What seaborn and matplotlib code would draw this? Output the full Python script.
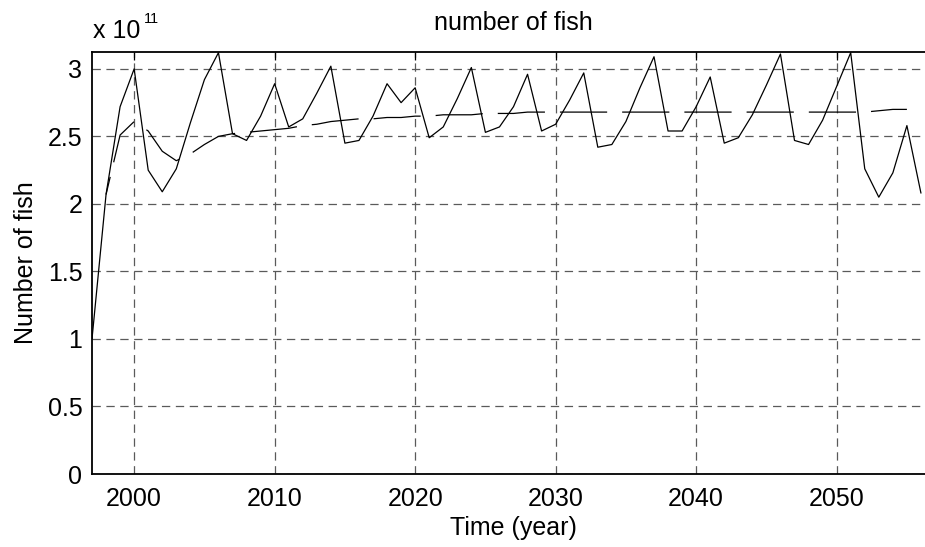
import matplotlib
matplotlib.use("Agg")
import matplotlib.pyplot as plt
from matplotlib.ticker import FuncFormatter
import seaborn as sns

# Yearly fish stock (in units of 1e11 fish)
years = list(range(1997, 2057))
fish_count = [
    1.00, 2.07, 2.72, 3.00, 2.25, 2.09, 2.26, 2.60, 2.92, 3.12,
    2.52, 2.47, 2.65, 2.89, 2.57, 2.63, 2.82, 3.02, 2.45, 2.47,
    2.65, 2.89, 2.75, 2.86, 2.49, 2.57, 2.78, 3.01, 2.53, 2.57,
    2.72, 2.96, 2.54, 2.59, 2.77, 2.97, 2.42, 2.44, 2.61, 2.86,
    3.09, 2.54, 2.54, 2.72, 2.94, 2.45, 2.49, 2.66, 2.88, 3.11,
    2.47, 2.44, 2.62, 2.87, 3.12, 2.26, 2.05, 2.23, 2.58, 2.08,
]

# Smoothed stock level (in units of 1e11 fish)
trend_years = list(range(1998, 2056))
fish_trend = [
    2.07, 2.51, 2.61, 2.54, 2.39, 2.32, 2.37, 2.44, 2.50, 2.52,
    2.53, 2.54, 2.55, 2.56, 2.58, 2.59, 2.61, 2.62, 2.63, 2.63,
    2.64, 2.64, 2.65, 2.65, 2.66, 2.66, 2.66, 2.67, 2.67, 2.67,
    2.68, 2.68, 2.68, 2.68, 2.68, 2.68, 2.68, 2.68, 2.68, 2.68,
    2.68, 2.68, 2.68, 2.68, 2.68, 2.68, 2.68, 2.68, 2.68, 2.68,
    2.68, 2.68, 2.68, 2.68, 2.68, 2.69, 2.70, 2.70,
]

SCALE = 1e11
x_ticks = [2000, 2010, 2020, 2030, 2040, 2050]
y_ticks = [0, 0.5, 1, 1.5, 2, 2.5, 3]

sns.set_style("white")
plt.rcParams["font.family"] = ["Liberation Sans", "DejaVu Sans"]
plt.rcParams["lines.scale_dashes"] = False
plt.rcParams["text.color"] = "black"
plt.rcParams["axes.labelcolor"] = "black"

fig = plt.figure(figsize=(9.25, 5.47), dpi=100)
ax = fig.add_axes([92 / 925, 73 / 547, 843 / 925, 422 / 547])

sns.lineplot(x=years, y=[v * SCALE for v in fish_count], ax=ax,
             color="black", linewidth=0.9)
sns.lineplot(x=trend_years, y=[v * SCALE for v in fish_trend], ax=ax,
             color="black", linewidth=0.9,
             linestyle=(21, (34, 10.8)))

ax.set_xlim(1997, 2057)
ax.set_ylim(0, 3.125 * SCALE)
ax.set_xticks(x_ticks)
ax.set_yticks([v * SCALE for v in y_ticks])
ax.yaxis.set_major_formatter(FuncFormatter(lambda v, _: f"{v / SCALE:g}"))

ax.grid(True, color="#5a5a5a", linewidth=0.9, linestyle=(0, (6, 4)))
ax.set_axisbelow(True)

for side in ["left", "top", "bottom"]:
    ax.spines[side].set_visible(True)
    ax.spines[side].set_color("black")
    ax.spines[side].set_linewidth(1.3)
ax.spines["right"].set_visible(False)

ax.tick_params(axis="both", direction="in", length=6, width=0.9,
               top=True, right=False, labelsize=18, colors="black")
ax.tick_params(axis="x", pad=9)
ax.tick_params(axis="y", pad=7)

ax.set_title("number of fish", fontsize=18, pad=16, color="black")
ax.set_xlabel("Time (year)", fontsize=18, labelpad=4, color="black")
ax.set_ylabel("Number of fish", fontsize=18, labelpad=7, color="black")

# exponent label above the y axis
fig.text(93 / 925, 1 - 38 / 547, "x 10", fontsize=18, va="baseline",
         ha="left", color="black")
fig.text(144 / 925, 1 - 23 / 547, "11", fontsize=10.5, va="baseline",
         ha="left", color="black")

fig.savefig("out.png", dpi=100)
